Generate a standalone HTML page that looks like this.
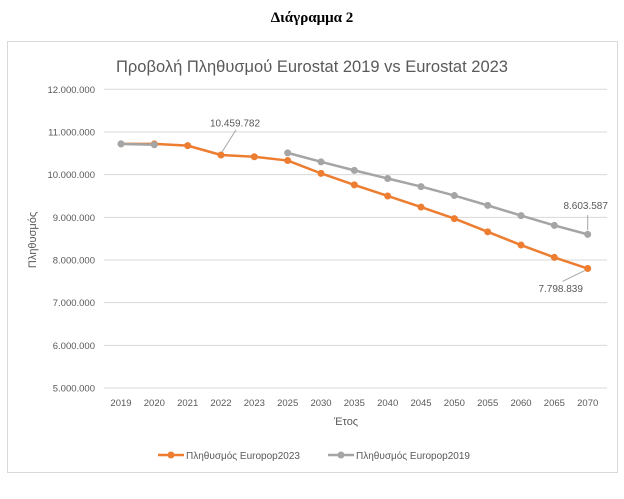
<!DOCTYPE html>
<html><head><meta charset="utf-8"><style>
body{margin:0;background:#fff;width:624px;height:494px;overflow:hidden;font-family:"Liberation Sans",sans-serif}
</style></head><body>
<svg width="624" height="494">
<text x="312" y="22" text-anchor="middle" font-family="Liberation Serif" font-weight="bold" font-size="15" fill="#000">Διάγραμμα 2</text>
<rect x="7.5" y="41.5" width="610" height="431" fill="#fff" stroke="#d9d9d9"/>
<text x="312" y="72" text-anchor="middle" font-size="16.5" fill="#595959">Προβολή Πληθυσμού Eurostat 2019 vs Eurostat 2023</text>
<g id="grid"></g>
<g id="xt"></g>
<text x="346" y="425" text-anchor="middle" font-size="11" fill="#595959">Έτος</text>
<text transform="translate(36,240) rotate(-90)" text-anchor="middle" font-size="11" fill="#595959">Πληθυσμός</text>
<g id="series"></g>
<g>
<g><line x1="158" y1="455" x2="184" y2="455" stroke="#ed7d31" stroke-width="2.5"/><circle cx="171" cy="455" r="3.5" fill="#ed7d31"/><text x="186" y="459" font-size="10" fill="#595959">Πληθυσμός Europop2023</text></g>
<g><line x1="328" y1="455" x2="354" y2="455" stroke="#a5a5a5" stroke-width="2.5"/><circle cx="341" cy="455" r="3.5" fill="#a5a5a5"/><text x="356" y="459" font-size="10" fill="#595959">Πληθυσμός Europop2019</text></g>
</g>
</svg>
<script>
const categories=["2019","2020","2021","2022","2023","2025","2030","2035","2040","2045","2050","2055","2060","2065","2070"];
const europop2023=[10.72,10.72,10.68,10.46,10.42,10.33,10.03,9.76,9.50,9.24,8.97,8.66,8.35,8.06,7.80];
const europop2019=[10.72,10.70,null,null,null,10.51,10.30,10.10,9.91,9.72,9.51,9.28,9.04,8.81,8.60];
const yTicks=[5,6,7,8,9,10,11,12];
const yTickLabels=["5.000.000","6.000.000","7.000.000","8.000.000","9.000.000","10.000.000","11.000.000","12.000.000"];
const NS="http://www.w3.org/2000/svg";
const X0=121,X1=587.7,Y0=388,Y1=89.3;
const xs=i=>X0+(X1-X0)*i/(categories.length-1);
const ys=v=>Y0+(Y1-Y0)*(v-5)/7;
function mk(t,a,p){const e=document.createElementNS(NS,t);for(const k in a)e.setAttribute(k,a[k]);p.appendChild(e);return e;}
const grid=document.getElementById('grid');
yTicks.forEach((v,i)=>{
 const l=mk('line',{x1:104,x2:607,y1:ys(v),y2:ys(v),stroke:'#d9d9d9','stroke-width':1},grid);
 
 
 const t=mk('text',{x:95,y:ys(v)+3.5,'text-anchor':'end','font-size':9.5,fill:'#595959'},grid);
 
 
 t.textContent=yTickLabels[i];
});
const xt=document.getElementById('xt');
categories.forEach((c,i)=>{
 const t=mk('text',{x:xs(i),y:406,'text-anchor':'middle','font-size':9.5,fill:'#595959'},xt);
 
 
 t.textContent=c;
});
const sg=document.getElementById('series');
function draw(vals,col,name){
 let d='',pen=false;
 vals.forEach((v,i)=>{if(v==null){pen=false;return;}d+=(pen?'L':'M')+xs(i)+' '+ys(v);pen=true;});
 const p=mk('path',{d:d,fill:'none',stroke:col,'stroke-width':2.5,'stroke-linejoin':'round'},sg);
 
 
 vals.forEach((v,i)=>{if(v==null)return;
  const c=mk('circle',{cx:xs(i),cy:ys(v),r:3.5,fill:col},sg);
  
  
 });
}
draw(europop2023,'#ed7d31','europop2023');
draw(europop2019,'#a5a5a5','europop2019');
function label(txt,x,y,lx1,ly1,lx2,ly2,nm){
 const l=mk('line',{x1:lx1,y1:ly1,x2:lx2,y2:ly2,stroke:'#a6a6a6','stroke-width':1},sg);
 
 
 const t=mk('text',{x:x,y:y,'text-anchor':'middle','font-size':10,fill:'#595959'},sg);
 
 
 t.textContent=txt;
}
label('10.459.782',xs(3)+14,ys(11.13),xs(3)+1,ys(europop2023[3])-3,xs(3)+15,ys(11.05),'label-2022');
label('8.603.587',xs(14)-2,ys(9.2),xs(14),ys(europop2019[14])-4,xs(14),ys(9.05),'label-2070-2019');
label('7.798.839',xs(14)-27,ys(7.25),xs(14)-3,ys(europop2023[14])+2,xs(14)-25,ys(7.5),'label-2070-2023');
</script>
</body></html>
